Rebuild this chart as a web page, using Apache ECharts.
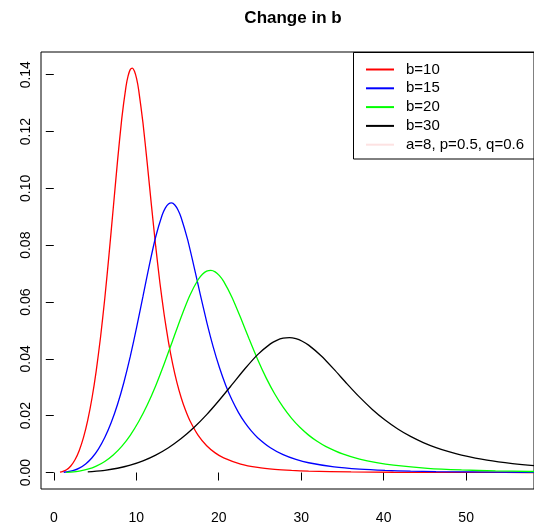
<!DOCTYPE html>
<html>
<head>
<meta charset="utf-8">
<script src="https://cdn.jsdelivr.net/npm/echarts@6/dist/echarts.min.js"></script>
<style>
html,body{margin:0;padding:0;background:#fff;}
#chart{width:534px;height:525px;}
</style>
</head>
<body>
<div id="chart"></div>
<script>
// ---- data ----
const titleText = 'Change in b';
const seriesNames = ['b=10', 'b=15', 'b=20', 'b=30'];
const paramLabel = 'a=8, p=0.5, q=0.6';
const xTicks = [0, 10, 20, 30, 40, 50];
const yTicks = [0, 0.02, 0.04, 0.06, 0.08, 0.10, 0.12, 0.14];

const x10 = [0.75, 1.03, 1.545, 2.06, 2.575, 3.09, 3.605, 4.12, 4.635, 5.15, 5.665, 6.18, 6.695, 7.21, 7.725, 8.24, 8.755, 9.0125, 9.27, 9.5275, 9.785, 10.0425, 10.3, 10.815, 11.33, 11.845, 12.36, 12.875, 13.39, 13.905, 14.42, 14.935, 15.45, 15.965, 16.48, 17.51, 18.54, 19.57, 20.6, 22.66, 24.72, 26.78, 28.84, 30.9, 36.05, 41.2, 46.35, 51.5, 57.68, 61.8];
const y10 = [0.0001, 0.00028834, 0.00097315, 0.0023067, 0.0045053, 0.0077847, 0.0123595, 0.0184405, 0.0262265, 0.0358883, 0.0475346, 0.0611507, 0.0765998, 0.0929873, 0.109523, 0.1244753, 0.135839, 0.1395851, 0.141784, 0.1423335, 0.1412442, 0.1385922, 0.1345153, 0.1230462, 0.1088747, 0.0939198, 0.0795653, 0.0666263, 0.0554381, 0.0459799, 0.03811, 0.0316331, 0.026321, 0.0219709, 0.018409, 0.0130775, 0.0094408, 0.0069238, 0.005153, 0.0029715, 0.0017957, 0.0011294, 0.0007352, 0.0004927, 0.00020152, 0.000092886, 0.000046913, 0.000025462, 0.000013195, 0.000008844];

const x15 = [1.2, 1.545, 2.3175, 3.09, 3.8625, 4.635, 5.4075, 6.18, 6.9525, 7.725, 8.4975, 9.27, 10.0425, 10.815, 11.5875, 12.36, 13.1325, 13.5188, 13.905, 14.2913, 14.6775, 15.0638, 15.45, 16.2225, 16.995, 17.7675, 18.54, 19.3125, 20.085, 20.8575, 21.63, 22.4025, 23.175, 23.9475, 24.72, 26.265, 27.81, 29.355, 30.9, 33.99, 37.08, 40.17, 43.26, 46.35, 54.075, 61.8];
const y15 = [0.00009, 0.00019223, 0.00064877, 0.0015378, 0.0030035, 0.0051898, 0.0082397, 0.012294, 0.017484, 0.023926, 0.03169, 0.040767, 0.051067, 0.061992, 0.073015, 0.082984, 0.090559, 0.093057, 0.094523, 0.094889, 0.094163, 0.092395, 0.089677, 0.082031, 0.072583, 0.062613, 0.053044, 0.044418, 0.036959, 0.030653, 0.025407, 0.021089, 0.017547, 0.014647, 0.012273, 0.0087183, 0.0062939, 0.0046159, 0.0034353, 0.001981, 0.0011971, 0.00075293, 0.00049013, 0.00032847, 0.00013435, 0.000061924];

const x20 = [1.5, 2.06, 3.09, 4.12, 5.15, 6.18, 7.21, 8.24, 9.27, 10.3, 11.33, 12.36, 13.39, 14.42, 15.45, 16.48, 17.51, 18.025, 18.54, 19.055, 19.57, 20.085, 20.6, 21.63, 22.66, 23.69, 24.72, 25.75, 26.78, 27.81, 28.84, 29.87, 30.9, 31.93, 32.96, 35.02, 37.08, 39.14, 41.2, 45.32, 49.44, 53.56, 57.68, 61.8];
const y20 = [0.000056, 0.00014417, 0.00048658, 0.0011534, 0.0022527, 0.0038924, 0.0061798, 0.0092203, 0.013113, 0.017944, 0.023767, 0.030575, 0.0383, 0.046494, 0.054762, 0.062238, 0.06792, 0.069793, 0.070892, 0.071167, 0.070622, 0.069296, 0.067258, 0.061523, 0.054437, 0.04696, 0.039783, 0.033313, 0.027719, 0.02299, 0.019055, 0.015817, 0.01316, 0.010985, 0.0092045, 0.0065388, 0.0047204, 0.0034619, 0.0025765, 0.0014858, 0.00089785, 0.0005647, 0.0003676, 0.00024635];

const x30 = [4.12, 4.635, 6.18, 7.725, 9.27, 10.815, 12.36, 13.905, 15.45, 16.995, 18.54, 20.085, 21.63, 23.175, 24.72, 26.265, 27.0375, 27.81, 28.5825, 29.355, 30.1275, 30.9, 32.445, 33.99, 35.535, 37.08, 38.625, 40.17, 41.715, 43.26, 44.805, 46.35, 47.895, 49.44, 52.53, 55.62, 58.71, 61.8];
const y30 = [0.00022783, 0.00032438, 0.0007689, 0.0015018, 0.0025949, 0.0041198, 0.0061468, 0.0087422, 0.011963, 0.015845, 0.020384, 0.025533, 0.030996, 0.036508, 0.041492, 0.04528, 0.046528, 0.047261, 0.047445, 0.047081, 0.046197, 0.044838, 0.041015, 0.036292, 0.031307, 0.026522, 0.022209, 0.018479, 0.015327, 0.012703, 0.010544, 0.0087736, 0.0073236, 0.0061363, 0.0043592, 0.0031469, 0.0023079, 0.0017177];

const seriesX = [x10, x15, x20, x30];
const seriesY = [y10, y15, y20, y30];
const colors = ['#ff0000', '#0000ff', '#00ff00', '#000000'];

// ---- chart ----
const FONT = '"Liberation Sans", Arial, Helvetica, sans-serif';
const chart = echarts.init(document.getElementById('chart'), null, {renderer: 'canvas'});

const series = seriesNames.map((name, i) => ({
  name: name,
  type: 'line',
  data: seriesX[i].map((x, j) => [x, seriesY[i][j]]),
  showSymbol: false,
  smooth: 0.2,
  clip: true,
  color: colors[i],
  lineStyle: {color: colors[i], width: 1.3},
  animation: false
}));
series.push({
  name: paramLabel,
  type: 'line',
  data: [],
  showSymbol: false,
  color: '#fde2e2',
  lineStyle: {color: '#fde2e2', width: 1.3},
  animation: false
});

chart.setOption({
  animation: false,
  backgroundColor: '#ffffff',
  title: {
    text: titleText,
    left: 288,
    top: 5,
    textAlign: 'center',
    textStyle: {fontFamily: FONT, fontWeight: 'bold', fontSize: 17, color: '#000'}
  },
  grid: {
    left: 41, right: -5, top: 52, bottom: 35,
    show: true, borderColor: '#000', borderWidth: 1, backgroundColor: 'transparent',
    containLabel: false
  },
  legend: {
    orient: 'vertical',
    left: 366, top: 62,
    padding: 0,
    itemWidth: 28, itemHeight: 2,
    itemGap: 3.8,
    icon: 'rect',
    selectedMode: false,
    data: seriesNames.concat([paramLabel]),
    textStyle: {fontFamily: FONT, fontSize: 15, color: '#000', lineHeight: 14, padding: [0, 0, 0, 7]}
  },
  xAxis: {
    type: 'value',
    min: -1.55, max: 58.23,
    axisLine: {show: false},
    splitLine: {show: false},
    axisTick: {show: true, inside: false, length: 8, lineStyle: {color: '#000', width: 1}, customValues: xTicks},
    axisLabel: {fontFamily: FONT, fontSize: 14, color: '#000', margin: 22, customValues: xTicks, formatter: v => String(v)}
  },
  yAxis: {
    type: 'value',
    min: -0.0058, max: 0.148,
    axisLine: {show: false},
    splitLine: {show: false},
    axisTick: {show: true, inside: false, length: 8, lineStyle: {color: '#000', width: 1}, customValues: yTicks},
    axisLabel: {fontFamily: FONT, fontSize: 14, color: '#000', margin: 8, rotate: 90, customValues: yTicks, formatter: v => v.toFixed(2)}
  },
  graphic: [{
    type: 'rect',
    shape: {x: 353.5, y: 52.5, width: 260, height: 106.5},
    style: {fill: 'rgba(0,0,0,0)', stroke: '#000', lineWidth: 1},
    z: 100
  }],
  series: series
});
</script>
</body>
</html>
